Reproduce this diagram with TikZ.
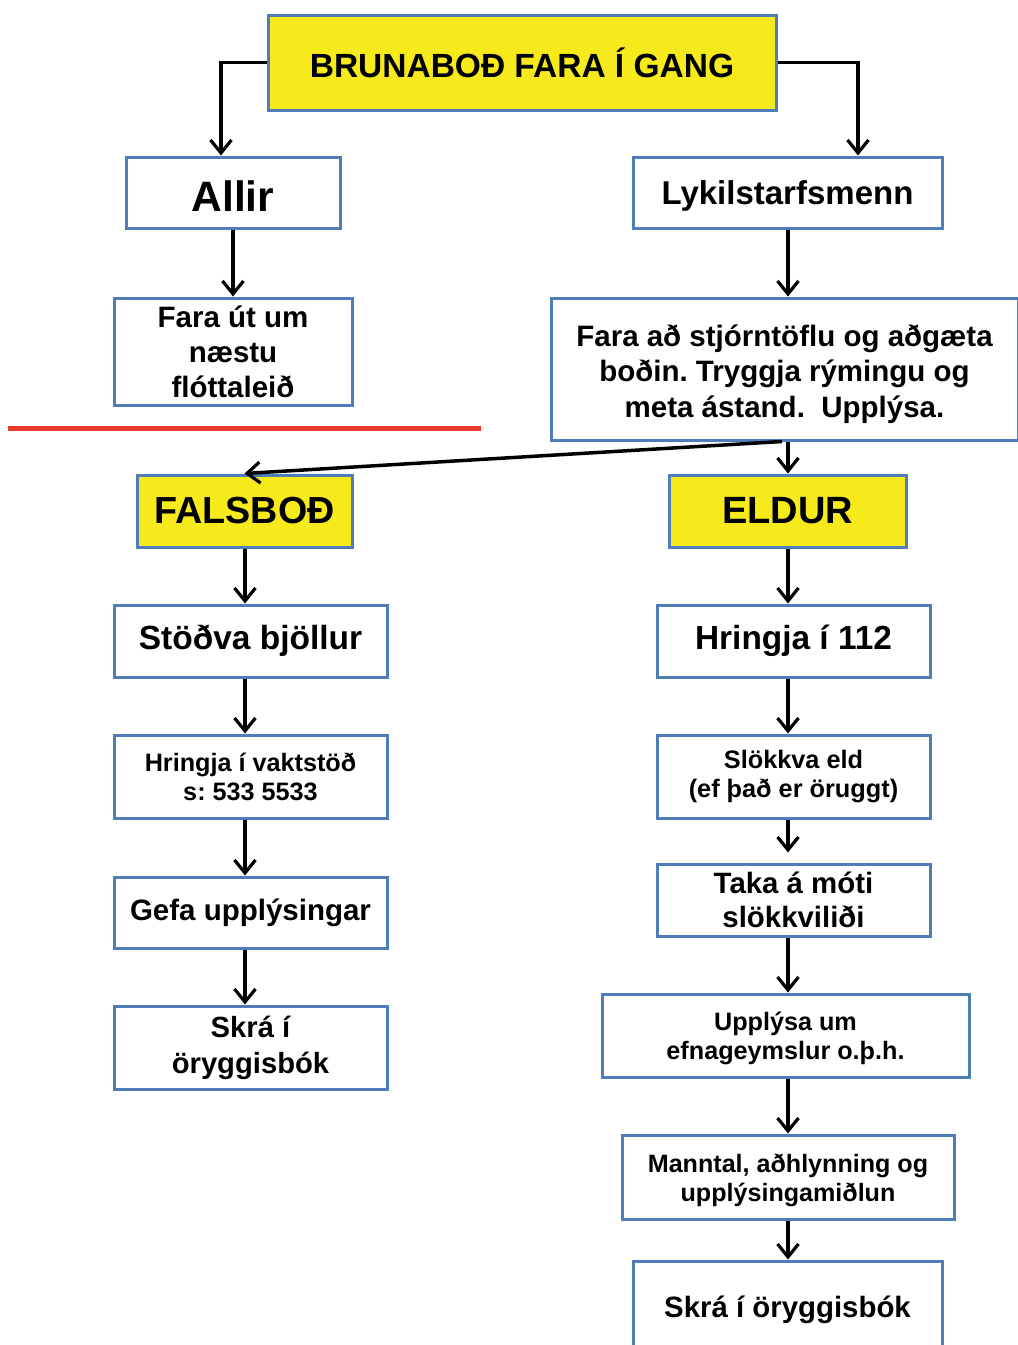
\documentclass[tikz,border=0pt]{standalone}
\usepackage{fontspec}
\setmainfont{Liberation Sans}
\usetikzlibrary{arrows.meta}
\usetikzlibrary{positioning}
\definecolor{boxblue}{HTML}{4F7DB8}
\definecolor{alarmyellow}{HTML}{F6EA1C}
\definecolor{linered}{HTML}{E8392B}
\frenchspacing
\newcommand{\lowr}[1]{\rule{0pt}{#1}}

\begin{document}
\begin{tikzpicture}[
  x=1pt, y=-1pt,
  >={Straight Barb[length=13pt,width=21pt,line width=3.2pt]},
  stepbox/.style={draw=boxblue, line width=3pt, fill=white, rectangle, inner sep=0pt, align=center, font=\bfseries},
  alarm/.style={stepbox, fill=alarmyellow},
  arr/.style={->, line width=3.5pt, black},
  fs/.style 2 args={font=\bfseries\fontsize{#1}{#2}\selectfont}
]
\useasboundingbox (0,0) rectangle (1018,1345);

\coordinate (lc) at (245,0);
\coordinate (rc) at (788,0);

% top and first split
\node [alarm, fs={33.5}{38}, minimum width=508pt, minimum height=95pt] (start) at (522,62.5) {BRUNABOÐ FARA Í GANG};
\node [stepbox, fs={42.5}{46}, minimum width=214pt, minimum height=71pt] (allir) at (233,192.5) {\lowr{37pt}Allir};
\node [stepbox, fs={33}{36}, minimum width=309pt, minimum height=71pt] (lykil) at (787.5,192.5) {\lowr{30pt}Lykilstarfsmenn};
\node [stepbox, fs={29.5}{35}, minimum width=238pt, minimum height=107pt] (utum) at (233,351.5) {Fara út um\\næstu\\flóttaleið};
\node [stepbox, fs={29.5}{35.5}, minimum width=467pt, minimum height=142pt] (stjorn) at (784.5,369) {\lowr{32pt}Fara að stjórntöflu og aðgæta\\boðin. Tryggja rýmingu og\\meta ástand.\ \ Upplýsa.};

\draw [linered, line width=5pt] (8,428) -- (481,428);

% left column: false alarm
\node [alarm, fs={37.7}{42}, minimum width=215pt, minimum height=72pt] (fals) at (244.5,511) {FALSBOÐ};
\node [stepbox, fs={33.5}{36}, minimum width=273pt, minimum height=72pt] (stodva) at (250.5,641) {Stöðva bjöllur};
\node [stepbox, fs={25.2}{29}, minimum width=273pt, minimum height=83pt] (vakt) at (250.5,776.5) {Hringja í vaktstöð\\s: 533 5533};
\node [stepbox, fs={29.5}{34}, minimum width=273pt, minimum height=71pt] (gefa) at (250.5,912.5) {Gefa upplýsingar};
\node [stepbox, fs={29.2}{36}, minimum width=273pt, minimum height=83pt] (skra) at (250.5,1047.5) {Skrá í\\öryggisbók};

% right column: fire
\node [alarm, fs={38}{42}, minimum width=237pt, minimum height=72pt] (eldur) at (787.5,511) {ELDUR};
\node [stepbox, fs={33.4}{36}, minimum width=273pt, minimum height=72pt] (simi) at (793.5,641) {Hringja í 112};
\node [stepbox, fs={25.3}{29}, minimum width=273pt, minimum height=83pt] (slokk) at (793.5,776.5) {Slökkva eld\\(ef það er öruggt)};
\node [stepbox, fs={29.4}{34}, minimum width=273pt, minimum height=72pt] (taka) at (793.5,900) {Taka á móti\\slökkviliði};
\node [stepbox, fs={25.2}{29}, minimum width=367pt, minimum height=83pt] (efna) at (785.5,1035.5) {\lowr{25pt}Upplýsa um\\efnageymslur o.þ.h.};
\node [stepbox, fs={25.1}{29}, minimum width=332pt, minimum height=84pt] (manntal) at (788,1177) {\lowr{25pt}Manntal, aðhlynning og\\upplýsingamiðlun};
\node [stepbox, fs={29.4}{34}, minimum width=309pt, minimum height=98pt] (skrab) at (787.5,1310) {Skrá í öryggisbók};

\draw [arr] (start.west) -| ([xshift=-12pt]allir.north);
\draw [arr] (start.east) -| ([xshift=70.5pt]lykil.north);
\draw [arr] (allir) -- (utum);
\draw [arr] (lykil.south -| rc) -- (stjorn.north -| rc);
\draw [arr] (stjorn.south -| rc) -- (eldur.north -| rc);
\draw [arr] ([xshift=-6pt]stjorn.south -| rc) -- (fals.north);

\draw [arr] (fals.south -| lc) -- (stodva.north -| lc);
\draw [arr] (stodva.south -| lc) -- (vakt.north -| lc);
\draw [arr] (vakt.south -| lc) -- (gefa.north -| lc);
\draw [arr] (gefa.south -| lc) -- (skra.north -| lc);

\draw [arr] (eldur.south -| rc) -- (simi.north -| rc);
\draw [arr] (simi.south -| rc) -- (slokk.north -| rc);
\draw [arr] (slokk.south -| rc) -- ([yshift=10pt]taka.north -| rc);
\draw [arr] (taka.south -| rc) -- (efna.north -| rc);
\draw [arr] (efna.south -| rc) -- (manntal.north -| rc);
\draw [arr] (manntal.south -| rc) -- (skrab.north -| rc);
\end{tikzpicture}
\end{document}
